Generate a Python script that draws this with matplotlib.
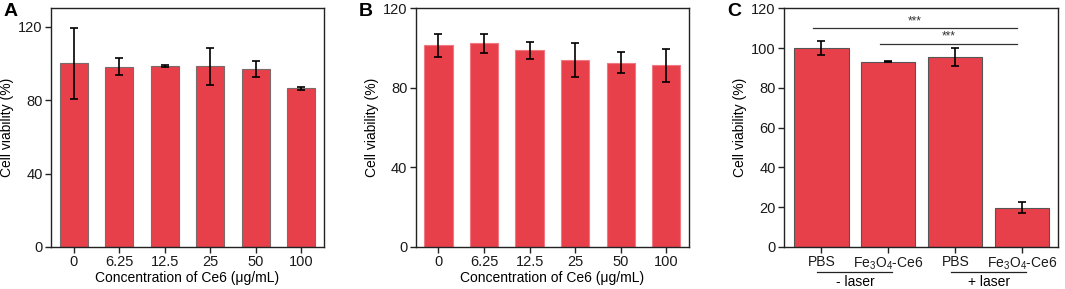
import matplotlib
matplotlib.use("Agg")
import matplotlib.pyplot as plt
import matplotlib.transforms as mtransforms

plt.rcParams['font.family'] = ['Liberation Sans', 'DejaVu Sans']
plt.rcParams['mathtext.fontset'] = 'custom'
plt.rcParams['mathtext.rm'] = 'Liberation Sans'
plt.rcParams['mathtext.it'] = 'Liberation Sans:italic'
plt.rcParams['mathtext.bf'] = 'Liberation Sans:bold'

# ---- data ----
conc_labels = ['0', '6.25', '12.5', '25', '50', '100']
a_values = [100.0, 98.3, 98.4, 98.5, 97.0, 86.4]
a_errors = [19.5, 4.4, 0.5, 10.0, 4.5, 0.9]
b_values = [101.3, 102.5, 99.0, 94.0, 92.7, 91.3]
b_errors = [5.7, 4.8, 4.3, 8.4, 5.4, 8.2]
c_labels = ['PBS', r'Fe$_3$O$_4$-Ce6', 'PBS', r'Fe$_3$O$_4$-Ce6']
c_values = [100.0, 93.2, 95.3, 19.8]
c_errors = [3.6, 0.3, 4.5, 2.6]
c_groups = ['- laser', '+ laser']
sig_pairs = [(0, 3), (1, 3)]
sig_text = ['***', '***']

red = '#E8404A'
fs = 10.5

fig = plt.figure(figsize=(10.65, 2.89), dpi=100)
H = 289.0
W = 1065.0

def mkax(left, right, top=8.3, bottom=247.0):
    return fig.add_axes([left / W, (H - bottom) / H, (right - left) / W, (bottom - top) / H])

axA = mkax(51, 324)
axB = mkax(415.7, 689)
axC = mkax(784, 1057.7)

def style(ax):
    for s in ax.spines.values():
        s.set_linewidth(1.0)
        s.set_color('#222222')
    ax.tick_params(direction='out', length=4, width=1.0, labelsize=fs, pad=2, colors='#222222', labelcolor='#1a1a1a')
    ax.set_ylabel('Cell viability (%)', fontsize=10, labelpad=3)

ekw = dict(ecolor='black', elinewidth=1.2, capsize=3.2, capthick=1.2)

# Panel A
xA = list(range(len(conc_labels)))
axA.bar(xA, a_values, width=0.62, color=red, edgecolor='#7a6a6a', linewidth=0.8,
        yerr=a_errors, error_kw=ekw, zorder=2)
axA.set_xlim(-0.5, 5.5)
axA.set_ylim(0, 130)
axA.set_yticks([0, 40, 80, 120])
axA.set_xticks(xA)
axA.set_xticklabels(conc_labels)
style(axA)
axA.set_xlabel('Concentration of Ce6 (μg/mL)', fontsize=10, labelpad=1)

# Panel B
axB.bar(xA, b_values, width=0.62, color=red, edgecolor='#f07883', linewidth=0.8,
        yerr=b_errors, error_kw=ekw, zorder=2)
axB.set_xlim(-0.5, 5.5)
axB.set_ylim(0, 120)
axB.set_yticks([0, 40, 80, 120])
axB.set_xticks(xA)
axB.set_xticklabels(conc_labels)
style(axB)
axB.set_xlabel('Concentration of Ce6 (μg/mL)', fontsize=10, labelpad=1)

# Panel C
xC = list(range(len(c_labels)))
axC.bar(xC, c_values, width=0.81, color=red, edgecolor='#555555', linewidth=0.8,
        yerr=c_errors, error_kw=ekw, zorder=2)
axC.set_xlim(-0.56, 3.53)
axC.set_ylim(0, 120)
axC.set_yticks([0, 20, 40, 60, 80, 100, 120])
axC.set_xticks(xC)
axC.set_xticklabels(c_labels)
style(axC)
axC.tick_params(axis='x', labelsize=10)

# significance lines
sig_y = [110, 102]
sig_x0 = [-0.13, 0.88]
sig_x1 = [2.92, 2.92]
for (i, j), t, y, x0, x1 in zip(sig_pairs, sig_text, sig_y, sig_x0, sig_x1):
    axC.plot([x0, x1], [y, y], color='#333333', lw=0.9, zorder=3)
    axC.text((x0 + x1) / 2, y + 0.6, t, ha='center', va='bottom', fontsize=8.5, color='#333333')

# group labels
trans = mtransforms.blended_transform_factory(axC.transData, axC.transAxes)
for k, g in enumerate(c_groups):
    x0 = 2 * k - 0.07
    x1 = 2 * k + 1.05
    axC.plot([x0, x1], [-0.103, -0.103], transform=trans, color='#222222', lw=0.9, clip_on=False)
    axC.text((2 * k + 0.5), -0.118, g, transform=trans, ha='center', va='top', fontsize=10)

# panel letters
for x, lab in [(4, 'A'), (359, 'B'), (727, 'C')]:
    fig.text(x / W, 1 - 3 / H, lab, fontsize=14, fontweight='bold', ha='left', va='top')

fig.savefig('out.png', dpi=100)
